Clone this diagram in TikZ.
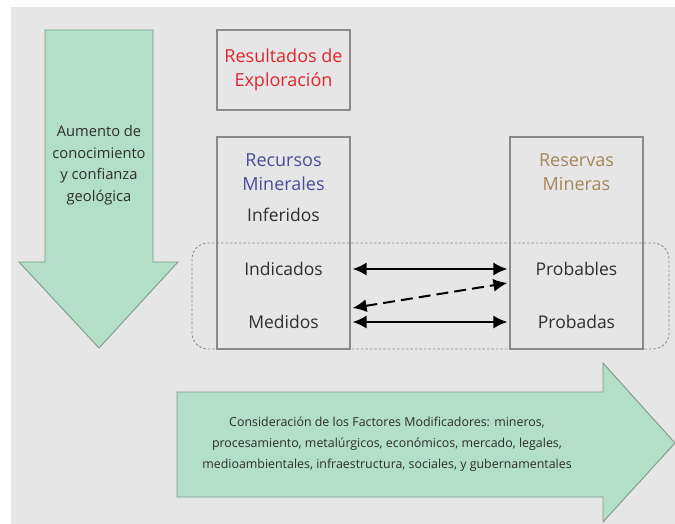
\documentclass[tikz,border=0pt]{standalone}
\usepackage{fontspec}
\setmainfont{Open Sans}
\usetikzlibrary{arrows.meta,calc}
\definecolor{bggray}{HTML}{E6E6E6}
\definecolor{greenfill}{HTML}{B3DEC8}
\definecolor{greenline}{HTML}{7E9A8A}
\definecolor{boxline}{HTML}{8A8A8A}
\definecolor{txt}{HTML}{2E2E2E}
\definecolor{redtxt}{HTML}{E0262E}
\definecolor{bluetxt}{HTML}{4A4A9E}
\definecolor{tantxt}{HTML}{A3875A}
\tikzset{
  greenshape/.style={fill=greenfill,draw=greenline,line width=0.9pt,line join=miter},
  graybox/.style={draw=boxline,line width=1.1pt,inner sep=0pt},
  bigtxt/.style={font=\fontsize{18}{24}\selectfont,align=center,inner sep=0pt},
  midtxt/.style={font=\fontsize{17.5}{24}\selectfont,text=txt,inner sep=0pt},
  smalltxt/.style={font=\fontsize{14.7}{21.5}\selectfont,text=txt,align=center,inner sep=0pt},
  conn/.style={line width=2pt,{Latex[length=14pt,width=13pt]}-{Latex[length=14pt,width=13pt]}},
}
\begin{document}
\begin{tikzpicture}[x=1pt,y=-1pt]
\useasboundingbox (0,0) rectangle (675,524);
\fill[white] (0,0) rectangle (675,524);
\fill[bggray] (11,7) rectangle (675,524);
% down arrow
\draw[greenshape] (45,30) -- (153,30) -- (153,262) -- (178,262) -- (99,348) -- (19,262) -- (45,262) -- cycle;
\node[smalltxt] (aum) at (99,165) {Aumento de\\conocimiento\\y confianza\\geológica};
% boxes
\node[graybox,minimum width=133pt,minimum height=80pt] (resu) at (283.5,70) {};
\node[bigtxt,text=redtxt] (resutxt) at (resu.center) {Resultados de\\Exploración};
\node[graybox,minimum width=133pt,minimum height=212pt] (rec) at (283.5,243) {};
\node[graybox,minimum width=133pt,minimum height=212pt] (res) at (576.5,243) {};
% dashed group
\draw[boxline,line width=0.8pt,dash pattern=on 2.5pt off 2pt,rounded corners=16pt] (192,243) rectangle (669,349);
% labels
\node[bigtxt,text=bluetxt] (rectxt) at (283.5,172) {Recursos\\Minerales};
\node[bigtxt,text=tantxt] (restxt) at (576.5,172) {Reservas\\Mineras};
\node[midtxt] (inf) at (283.5,215) {Inferidos};
\node[midtxt] (ind) at (283.5,269) {Indicados};
\node[midtxt] (med) at (283.5,322) {Medidos};
\node[midtxt] (prob) at (576.5,269) {Probables};
\node[midtxt] (proba) at (576.5,322) {Probadas};
% connectors
\draw[conn] ($(rec.east|-ind)+(2,0)$) -- ($(res.west|-prob)+(-2,0)$);
\draw[conn] ($(rec.east|-med)+(2,0)$) -- ($(res.west|-proba)+(-2,0)$);
\draw[conn,dash pattern=on 12pt off 6pt] ($(rec.east)+(2,65)$) -- ($(res.west)+(-2,40)$);
% right arrow
\draw[greenshape] (177,392) -- (603,392) -- (603,363) -- (675,443) -- (603,522) -- (603,497) -- (177,497) -- cycle;
\node[smalltxt,font=\fontsize{12.4}{21}\selectfont] (fac) at (387,444) {Consideración de los Factores Modificadores: mineros,\\procesamiento, metalúrgicos, económicos, mercado, legales,\\medioambientales, infraestructura, sociales, y gubernamentales};
\end{tikzpicture}
\end{document}
